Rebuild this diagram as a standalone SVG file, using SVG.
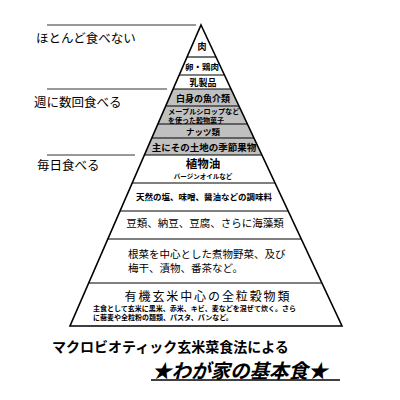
<svg xmlns="http://www.w3.org/2000/svg" width="400" height="400" viewBox="0 0 400 400">
<style>
text{font-family:"Noto Sans CJK JP","Noto Sans",sans-serif;fill:#000;dominant-baseline:central}
.c{text-anchor:middle}
.b{font-weight:bold}
.lbl{font-size:12.5px}
.gray{fill:#c0c0c0;stroke:none}
.guide{stroke:#333;stroke-width:1;fill:none}
</style>
<rect width="400" height="400" fill="#fff"/>
<polygon class="gray" points="173.1,89 231,89 261.9,155 144.4,155"/>
<g id="connectors">
<line class="guide" x1="47" y1="25" x2="196" y2="25"/>
<line class="guide" x1="47" y1="89" x2="167" y2="89"/>
<line class="guide" x1="47" y1="155" x2="135" y2="155"/>
</g>
<g id="outline">
<polygon points="201,25 342,326 70,326" fill="none" stroke="#000" stroke-width="1.6"/>
<g stroke="#000" stroke-width="1.1">
<line x1="187.1" y1="57" x2="216" y2="57"/>
<line x1="179.3" y1="75" x2="224.4" y2="75"/>
<line x1="173.1" y1="89" x2="231" y2="89"/>
<line x1="165.7" y1="106" x2="238.9" y2="106"/>
<line x1="157.9" y1="124" x2="247.4" y2="124"/>
<line x1="151.8" y1="138" x2="253.9" y2="138"/>
<line x1="144.4" y1="155" x2="261.9" y2="155"/>
<line x1="132.2" y1="183" x2="275" y2="183"/>
<line x1="120.1" y1="211" x2="288.1" y2="211"/>
<line x1="107.9" y1="239" x2="301.2" y2="239"/>
<line x1="88.7" y1="283" x2="321.8" y2="283"/>
</g>
</g>
<g id="label-rarely"><text class="lbl" x="36" y="37">ほとんど食べない</text></g>
<g id="label-weekly"><text class="lbl" x="34" y="101">週に数回食べる</text></g>
<g id="label-daily"><text class="lbl" x="37" y="164">毎日食べる</text></g>
<g id="n-meat"><text class="c b" x="202" y="46" font-size="9">肉</text></g>
<g id="n-egg"><text class="c b" x="202" y="66" font-size="8.5">卵・鶏肉</text></g>
<g id="n-dairy"><text class="c b" x="203" y="82" font-size="9">乳製品</text></g>
<g id="n-fish"><text class="c b" x="203" y="98" font-size="9">白身の魚介類</text></g>
<g id="n-sweets"><text class="b" x="168" y="111" font-size="7.2">メープルシロップなど</text><text class="b" x="168" y="119.5" font-size="7">を使った穀物菓子</text></g>
<g id="n-nuts"><text class="c b" x="203" y="131" font-size="8.5">ナッツ類</text></g>
<g id="n-fruit"><text class="c b" x="204" y="147" font-size="9.5">主にその土地の季節果物</text></g>
<g id="n-oil"><text class="c b" x="203" y="163" font-size="11.5">植物油</text><text class="c b" x="203" y="175.5" font-size="6.5">バージンオイルなど</text></g>
<g id="n-seasoning"><text class="c b" x="204" y="196" font-size="8.5">天然の塩、味噌、醤油などの調味料</text></g>
<g id="n-beans"><text class="c" x="205" y="222" font-size="10.5">豆類、納豆、豆腐、さらに海藻類</text></g>
<g id="n-veg"><text x="128" y="253" font-size="10.5">根菜を中心とした煮物野菜、及び</text><text x="128" y="267" font-size="10.5">梅干、漬物、番茶など。</text></g>
<g id="n-grain"><text class="c" x="208" y="295" font-size="12" letter-spacing="1.9">有機玄米中心の全粒穀物類</text><text class="b" x="93" y="308" font-size="7">主食として玄米に黒米、赤米、キビ、麦などを混ぜて炊く。さら</text><text class="b" x="93" y="316.5" font-size="7">に蕎麦や全粒粉の麺類、パスタ、パンなど。</text></g>
<g id="title">
<text class="b" x="52" y="346" font-size="14">マクロビオティック玄米菜食法による</text>
<text class="b" x="152" y="369" font-size="19.5" font-style="italic">★わが家の基本食★</text>
<line x1="151" y1="380" x2="340" y2="380" stroke="#000" stroke-width="1.5"/>
</g>
</svg>
